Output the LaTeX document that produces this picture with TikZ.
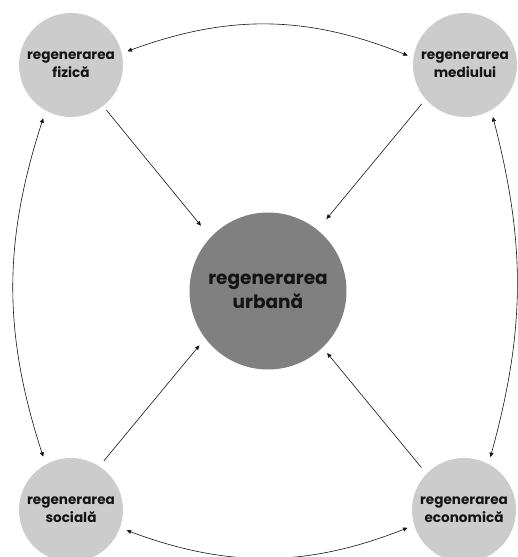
\documentclass[tikz,border=0pt]{standalone}
\usepackage{fontspec}
\setmainfont{Poppins}[BoldFont={* Bold}]
\usetikzlibrary{arrows.meta}

\definecolor{lightgr}{HTML}{CCCCCC}
\definecolor{darkgr}{HTML}{808080}
\definecolor{inkgr}{HTML}{141414}

\tikzset{
	small/.style={circle,fill=lightgr,minimum size=104pt,inner sep=0pt,align=center,
		font=\bfseries\fontsize{13.6}{18}\selectfont,text=inkgr},
	big/.style={circle,fill=darkgr,minimum size=157pt,inner sep=0pt,align=center,
		font=\bfseries\fontsize{18.5}{24}\selectfont,text=inkgr},
	link/.style={line width=0.6pt,draw=inkgr,-{Triangle[length=4.5pt,width=4pt]}},
	both/.style={line width=0.6pt,draw=inkgr,{Triangle[length=4.5pt,width=4pt]}-{Triangle[length=4.5pt,width=4pt]}}
}

\begin{document}
\begin{tikzpicture}[x=1pt,y=-1pt]
	\clip (0,0) rectangle (518,557);
	\fill[white] (0,0) rectangle (518,557);

	\node[small] (fiz) at (71,65) {regenerarea\\fizică};
	\node[small] (med) at (465,65) {regenerarea\\mediului};
	\node[small] (soc) at (71,510) {regenerarea\\socială};
	\node[small] (eco) at (464,510) {regenerarea\\economică};
	\node[big] (urb) at (268,291) {regenerarea\\urbană};

	% spre centru
	\draw[link,shorten <=5pt,shorten >=15pt] (fiz.-52) -- (urb.137);
	\draw[link,shorten <=6pt,shorten >=14pt] (med.221) -- (urb.51);
	\draw[link,shorten <=7pt,shorten >=9pt] (soc.57) -- (urb.217);
	\draw[link,shorten <=8pt,shorten >=7pt] (eco.136) -- (urb.-46);

	% intre cercuri
	\draw[both,shorten <=6pt,shorten >=6pt] (fiz.13) to[bend left=21] (med.172);
	\draw[both,shorten <=7pt,shorten >=7pt] (soc.-20) to[bend right=21] (eco.197);
	\draw[both,shorten <=8pt,shorten >=8pt] (fiz.241) to[bend right=18] (soc.119);
	\draw[both,shorten <=7pt,shorten >=7pt] (med.300) to[bend left=15] (eco.62);
\end{tikzpicture}
\end{document}
